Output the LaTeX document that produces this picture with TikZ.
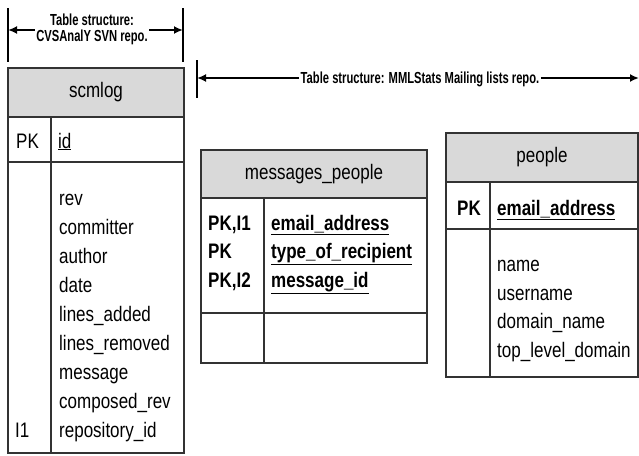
\documentclass[tikz,border=0pt]{standalone}
\usepackage{fontspec}
\setmainfont{Liberation Sans}
\newfontfamily\tabfont[FakeStretch=0.81]{Liberation Sans}
\newfontfamily\notefont[FakeStretch=0.7]{Liberation Sans}
\usepackage{tikz}
\usetikzlibrary{arrows.meta,positioning}
\definecolor{hdrgray}{gray}{0.85}
\newcommand\tblsize{\fontsize{21}{25}\selectfont}
\tikzstyle{cell} = [draw=black!80, line width=1.2pt, anchor=north west, inner sep=0pt, outer sep=0pt]
\tikzstyle{hdr} = [cell, fill=hdrgray, font=\tabfont\tblsize]
\tikzstyle{txt} = [anchor=base west, inner sep=0pt, font=\tabfont\tblsize]
\tikzstyle{keytxt} = [txt, font=\tabfont\bfseries\tblsize]
\tikzset{
  note/.style ={font=\notefont\bfseries\fontsize{16}{15.3}\selectfont, align=center, inner sep=1.5pt},
  dimline/.style ={draw, line width=1.8pt, -{Latex[length=9pt,width=8pt]}},
  bar/.style ={draw, line width=1.8pt}
}

\begin{document}
\begin{tikzpicture}[x=1pt,y=-1pt]
  \useasboundingbox (0,0) rectangle (639,455);

  % scmlog
  \node[hdr, minimum width=176pt, minimum height=49pt] (scmlog) at (8,68) {scmlog};
  \node[cell, minimum width=43pt, minimum height=45pt] (scmlog-pkkey) at (scmlog.south west) {};
  \node[cell, minimum width=133pt, minimum height=45pt] (scmlog-pkfld) at (scmlog-pkkey.north east) {};
  \node[cell, minimum width=43pt, minimum height=291pt] (scmlog-key) at (scmlog-pkkey.south west) {};
  \node[cell, minimum width=133pt, minimum height=291pt] (scmlog-fld) at (scmlog-key.north east) {};
  \node[txt] (scmlog-pk) at (16,148) {PK};
  \node[txt] (scmlog-id) at (58,148) {\underline{id}};
  \foreach \f [count=\i from 0] in {rev,committer,author,date,lines\_added,lines\_removed,message,composed\_rev,repository\_id}
    \node[txt] (scmlog-f\i) at (59,205+29*\i) {\f};
  \node[txt] (scmlog-i1) at (15,437) {I1};

  % messages_people
  \node[hdr, minimum width=226pt, minimum height=48pt] (msgpeople) at (201,150) {messages\_people};
  \node[cell, minimum width=63pt, minimum height=115pt] (msgpeople-key) at (msgpeople.south west) {};
  \node[cell, minimum width=163pt, minimum height=115pt] (msgpeople-fld) at (msgpeople-key.north east) {};
  \node[cell, minimum width=63pt, minimum height=50pt] (msgpeople-key2) at (msgpeople-key.south west) {};
  \node[cell, minimum width=163pt, minimum height=50pt] (msgpeople-fld2) at (msgpeople-key2.north east) {};
  \foreach \k/\f [count=\i from 0] in {PK{,}I1/email\_address,PK/type\_of\_recipient,PK{,}I2/message\_id}{
    \node[keytxt] (msgpeople-k\i) at (208,230+28.5*\i) {\k};
    \node[keytxt] (msgpeople-f\i) at (271,230+28.5*\i) {\underline{\f}};
  }

  % people
  \node[hdr, minimum width=192pt, minimum height=49pt] (people) at (446,133) {people};
  \node[cell, minimum width=44pt, minimum height=47pt] (people-pkkey) at (people.south west) {};
  \node[cell, minimum width=148pt, minimum height=47pt] (people-pkfld) at (people-pkkey.north east) {};
  \node[cell, minimum width=44pt, minimum height=148pt] (people-key) at (people-pkkey.south west) {};
  \node[cell, minimum width=148pt, minimum height=148pt] (people-fld) at (people-key.north east) {};
  \node[keytxt] (people-pk) at (457,215) {PK};
  \node[keytxt] (people-id) at (497,215) {\underline{email\_address}};
  \foreach \f [count=\i from 0] in {name,username,domain\_name,top\_level\_domain}
    \node[txt] (people-f\i) at (497,271.5+28.5*\i) {\f};

  % repository labels
  \node[note] (svnlbl) at (92,29.5) {Table structure:\\CVSAnalY SVN repo.};
  \coordinate (svnL) at (8,30);
  \coordinate (svnR) at (183,30);
  \draw[bar] ([yshift=22pt]svnL) -- ([yshift=-32pt]svnL);
  \draw[bar] ([yshift=22pt]svnR) -- ([yshift=-32pt]svnR);
  \draw[dimline] (svnlbl.west |- svnL) -- (svnL);
  \draw[dimline] (svnlbl.east |- svnR) -- (svnR);

  \node[note] (mmllbl) at (420,79.5) {Table structure: MMLStats Mailing lists repo.};
  \coordinate (mmlL) at (197,78);
  \coordinate (mmlR) at (639,78);
  \draw[bar] ([yshift=18pt]mmlL) -- ([yshift=-20pt]mmlL);
  \draw[dimline] (mmllbl.west |- mmlL) -- (mmlL);
  \draw[dimline] (mmllbl.east |- mmlR) -- (mmlR);
\end{tikzpicture}
\end{document}
